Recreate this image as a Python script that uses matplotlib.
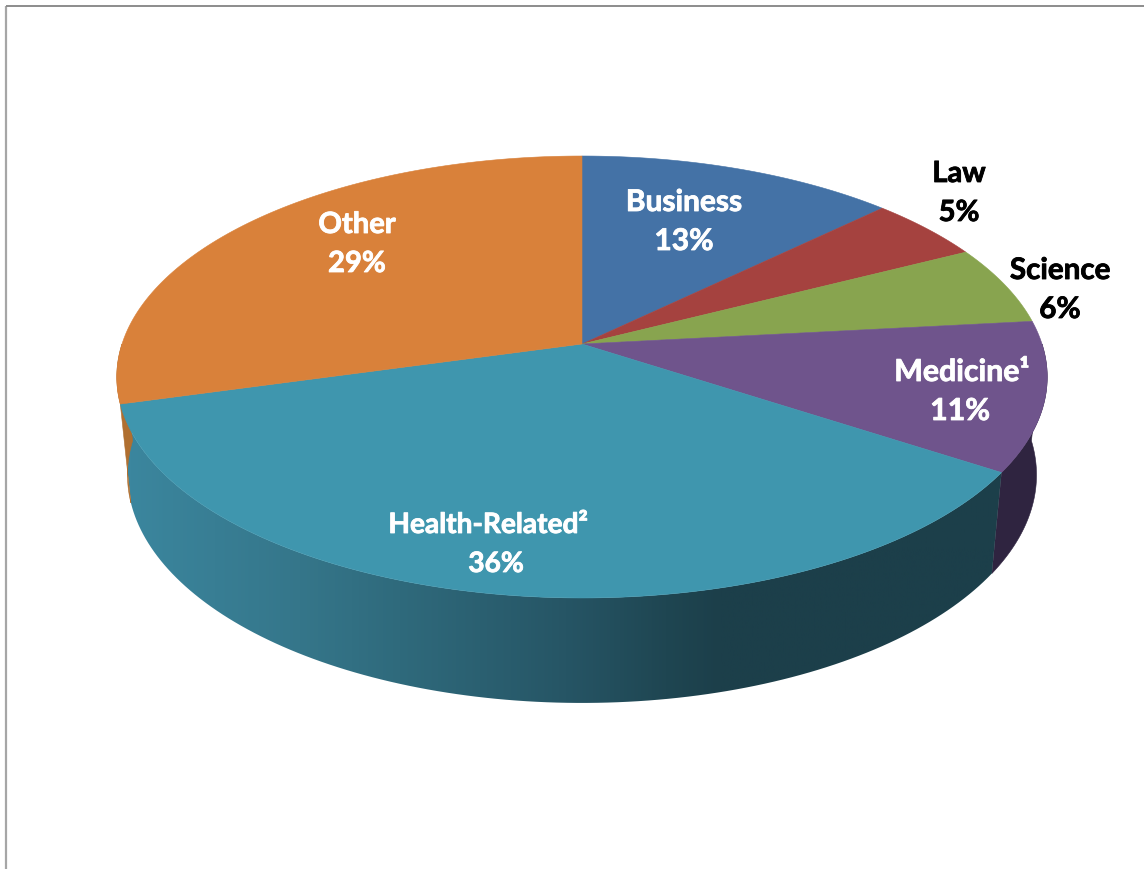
import numpy as np
import matplotlib

matplotlib.use('Agg')
import matplotlib.pyplot as plt
import matplotlib.patheffects as pe
from matplotlib.colors import LinearSegmentedColormap
from matplotlib.patches import Polygon

# clockwise from 12 o'clock
LABELS = ['Business', 'Law', 'Science', 'Medicine¹', 'Health-Related²', 'Other']
PCT_LABELS = ['13%', '5%', '6%', '11%', '36%', '29%']
# unrounded shares read from the slice edges
VALUES = [12.8, 4.7, 5.8, 10.9, 36.5, 29.3]
TOP_COLORS = ['#4472a6', '#a5423f', '#88a44f', '#6f548c', '#3f96ae', '#d9813a']
SIDE_COLORS = [None, None, None, '#2f2440', None, '#b06f30']
TEXT_COLORS = ['white', 'black', 'black', 'white', 'white', 'white']
NAME_POS = [(684, 211), (959, 182), (1060, 279), (962, 381), (488, 533), (357, 233)]
PCT_POS = [(684, 250), (959, 221), (1060, 318), (960, 420), (496, 572), (357, 272)]
FONT_SIZES = [21.5, 21, 21.3, 21.8, 20.2, 21]

# perspective of the pie, in pixels
CX = 582
APEX_Y = 344
D = 460
PERSP = 0.1493
A = -164.7

FONT = 'Lato'

# side gradient of the big slice, dark to the right
GRAD_X = [128, 300, 400, 567, 667, 720, 1010]
GRAD_COLORS = ['#3b869e', '#35768a', '#2f6a7c', '#265565', '#1f4652', '#1c3f4a', '#1c3f4a']


def top_xy(theta):
    u, v = np.sin(theta), np.cos(theta)
    den = 1 + PERSP * v
    return CX + D * u / den, (A * v + APEX_Y) / den


def low_xy(theta):
    x, y = top_xy(theta)
    return CX + 0.977 * (x - CX), 1.0317 * y + 86


def side_poly(a0, a1):
    ts = np.linspace(a0, a1, 120)
    xt, yt = top_xy(ts)
    xl, yl = low_xy(ts[::-1])
    return np.c_[np.r_[xt, xl], np.r_[yt, yl]]


fig = plt.figure(figsize=(11.44, 8.69), dpi=100)
ax = fig.add_axes([0, 0, 1, 1])

# outer frame
ax.plot([6, 6], [869, 6], color='#a6a6a6', lw=1.6, solid_capstyle='butt')
ax.plot([6, 1144], [6, 6], color='#8c8c8c', lw=1.4, solid_capstyle='butt')

edges = np.cumsum([0] + VALUES) / sum(VALUES) * 2 * np.pi

# side wall, only the front half shows
for i in range(len(VALUES)):
    a0, a1 = max(edges[i], np.pi / 2), min(edges[i + 1], 3 * np.pi / 2)
    if a1 <= a0:
        continue
    if SIDE_COLORS[i] is not None:
        ax.fill(*side_poly(a0, a1).T, color=SIDE_COLORS[i], lw=0.4)
    elif LABELS[i].startswith('Health'):
        stops = (np.array(GRAD_X) - GRAD_X[0]) / (GRAD_X[-1] - GRAD_X[0])
        cmap = LinearSegmentedColormap.from_list('side', list(zip(stops, GRAD_COLORS)))
        im = ax.imshow(np.linspace(0, 1, 512)[None, :], cmap=cmap, aspect='auto',
                       extent=(GRAD_X[0], GRAD_X[-1], 720, 380), zorder=1)
        patch = Polygon(side_poly(a0, a1), closed=True, transform=ax.transData,
                        fc='none', ec='none')
        ax.add_patch(patch)
        im.set_clip_path(patch)

# top face
for i, col in enumerate(TOP_COLORS):
    ts = np.linspace(edges[i], edges[i + 1], 100)
    xs, ys = top_xy(ts)
    ax.fill(np.r_[CX, xs], np.r_[APEX_Y, ys], color=col, lw=0.4, zorder=2)

for i in range(len(LABELS)):
    for txt, (x, y) in ((LABELS[i], NAME_POS[i]), (PCT_LABELS[i], PCT_POS[i])):
        t = ax.text(x, y, txt, color=TEXT_COLORS[i], ha='center', va='baseline', zorder=3,
                    fontsize=FONT_SIZES[i], fontweight='bold', family=[FONT, 'DejaVu Sans'])
        # Lato bold is a bit lighter than the original face
        t.set_path_effects([pe.withStroke(linewidth=0.6, foreground=TEXT_COLORS[i])])

ax.set_xlim(0, 1144)
ax.set_ylim(869, 0)
ax.axis('off')

fig.savefig('out.png', dpi=100)
plt.close(fig)
